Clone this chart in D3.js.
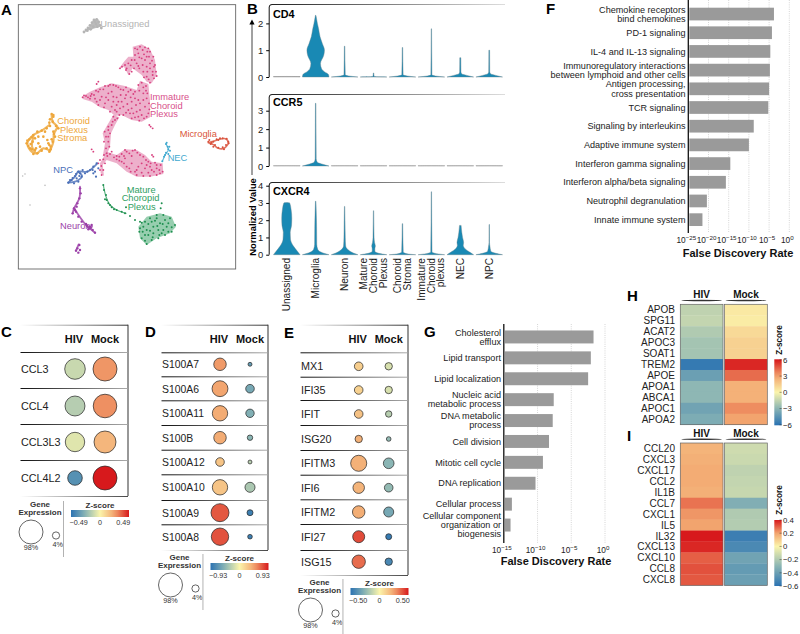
<!DOCTYPE html>
<html>
<head>
<meta charset="utf-8">
<script src="https://cdn.jsdelivr.net/npm/d3@7"></script>
<style>
  html, body { margin: 0; padding: 0; background: #fff; }
  svg { display: block; }
  text { font-family: "Liberation Sans", Arial, sans-serif; fill: #222; }
</style>
</head>
<body>
<div id="chart"></div>
<script>
// ---- panel A, umap embedding, read in arbitrary umap units
const immatureAreas = [
  [[398,140],[425,133],[450,148],[465,180],[470,225],[455,250],[440,245],[425,225],[412,215],[398,205],[385,225],[372,200],[355,208],[372,185],[385,170],[400,170]],
  [[245,290],[270,275],[300,262],[335,250],[375,258],[410,270],[420,242],[445,252],[450,300],[450,352],[425,365],[395,360],[365,345],[345,348],[325,330],[300,322],[275,305],[250,298]],
  [[340,345],[358,352],[345,375],[333,400],[330,440],[322,460],[308,470],[315,430],[308,400],[322,375]],
  [[300,490],[320,455],[350,465],[375,448],[410,450],[435,465],[455,485],[488,490],[490,522],[450,530],[410,530],[380,515],[350,490],[320,480],[308,495],[312,528],[302,520]]
];
const matureAreas = [
  [[415,680],[440,650],[480,640],[515,650],[528,680],[510,700],[470,715],[440,735],[420,715]]
];
const unassignedAreas = [
  [[252,97],[272,75],[280,58],[295,58],[302,80],[285,85],[262,92]]
];
const immaturePoints = [[405,145],[420,140],[435,142],[450,155],[460,170],[465,195],[468,215],[462,235],[450,248],[440,230],[430,215],[418,205],[410,190],[425,175],[440,170],[450,190],[440,200],[405,165],[395,180],[385,190],[375,195],[360,205],[378,210],[395,215],[388,222],[295,245],[290,252],[248,292],[258,288],[270,296],[282,285],[295,275],[310,268],[325,258],[340,255],[355,262],[370,270],[385,275],[400,282],[415,255],[430,262],[442,280],[447,310],[445,340],[432,355],[415,350],[400,340],[385,330],[370,320],[355,305],[340,290],[325,280],[305,290],[290,305],[315,310],[335,320],[350,335],[370,345],[395,355],[420,330],[430,300],[415,300],[395,305],[375,295],[350,315],[345,360],[335,375],[325,390],[318,410],[325,425],[318,445],[312,465],[300,480],[295,490],[280,455],[275,448],[452,380],[458,385],[448,375],[335,455],[350,468],[365,462],[380,455],[398,452],[412,458],[430,470],[445,485],[465,488],[482,495],[488,515],[470,525],[450,528],[430,528],[410,525],[392,515],[380,500],[365,485],[350,478],[375,475],[395,490],[415,500],[435,505],[455,510],[470,505],[315,490],[310,510],[305,525],[456,465],[460,470],
  [412,148],[428,150],[442,155],[415,160],[432,163],[447,170],[456,182],[418,172],[435,180],[450,205],[458,215],[442,215],[428,195],[415,198],[404,180],[392,196],[380,205],[366,200],[402,205],[432,232],[446,238],[458,225],[445,145],[462,200],[470,228],
  [252,286],[264,292],[275,282],[288,272],[300,268],[315,258],[330,254],[348,258],[362,268],[378,262],[392,270],[405,275],[425,248],[438,258],[438,272],[430,280],[418,272],[405,295],[420,310],[435,320],[440,295],[425,345],[410,335],[395,325],[382,312],[365,305],[350,292],[335,275],[318,292],[300,300],[285,296],[272,288],[325,300],[340,305],[360,325],[378,338],[405,352],[418,362],[440,350],[448,328],[362,285],[378,285],[392,292],[408,315],[390,340],[358,345],[345,330],[330,335],[312,322],[295,315],
  [340,350],[352,355],[338,365],[325,380],[330,400],[314,395],[325,410],[312,425],[328,440],[320,460],[310,478],[322,468],[304,498],[300,510],
  [330,462],[342,472],[358,470],[372,468],[388,460],[405,450],[420,465],[438,480],[452,490],[470,495],[478,510],[462,515],[445,518],[425,518],[405,515],[388,505],[372,490],[358,482],[440,495],[480,520],[425,490],[395,468],[375,450],[410,510],[450,500]];
const orangePoints = [[155,342],[160,350],[150,358],[158,365],[168,378],[175,385],[160,395],[165,410],[158,425],[152,440],[148,455],[140,445],[125,452],[112,460],[100,462],[90,445],[80,430],[88,418],[100,405],[112,395],[125,392],[140,385],[150,378],[130,410],[115,430],[108,445],[98,425],[92,432],[155,418],[145,430],[120,440],[160,345],[148,368],[105,450],[82,422],[95,412],[162,402],[152,448],[105,415],[115,410],[85,438],[96,448],[148,435],[142,420],[135,395]];
const orangeStrands = [[[155,345],[158,365],[172,380],[162,400],[160,425],[150,452]], [[150,452],[130,445],[110,460],[95,455],[82,430],[100,405],[125,392],[148,375]], [[100,410],[96,440],[105,455]]];
const microgliaPoints = [[625,425],[635,428],[645,435],[655,443],[668,442],[678,435],[685,425],[680,416],[668,415],[655,420],[640,425],[632,432],[640,440],[650,418],[672,448],[660,415],[686,430],[628,420]];
const microgliaStrands = [[[625,428],[640,434],[655,445],[672,445],[685,428],[676,416],[658,418],[640,424],[625,428]]];
const necPoints = [[498,432],[503,440],[505,448],[498,458],[492,470],[487,484],[505,462],[510,452],[500,428],[495,465],[508,440]];
const necStrands = [[[498,432],[505,450],[497,462],[487,484]]];
const npcPoints = [[205,548],[215,540],[225,528],[235,515],[248,510],[262,515],[280,500],[290,490],[280,520],[288,530],[245,530],[235,545],[222,550],[210,540],[240,520],[255,520],[270,510],[230,535],[278,510],[295,505],[285,515],[218,534],[228,522],[238,528]];
const npcStrands = [[[205,548],[225,530],[235,515],[262,515],[292,490]], [[205,548],[232,542],[246,528],[235,515]]];
const neuronPoints = [[240,565],[242,580],[238,595],[232,610],[222,625],[218,640],[228,635],[235,650],[245,665],[258,672],[270,680],[285,698],[278,690],[265,688],[262,678],[275,675],[232,745],[238,735],[228,752],[240,750],[235,758],[225,630],[230,620],[272,684]];
const neuronStrands = [[[240,560],[238,595],[222,625],[218,640]], [[222,625],[232,640],[258,675],[285,698]], [[258,672],[268,686],[276,680]], [[236,733],[228,752]]];
const maturePoints = [[310,555],[312,570],[318,585],[315,598],[325,610],[335,622],[350,630],[365,635],[378,622],[375,640],[390,648],[405,660],[420,665],[485,610],[482,625],[420,685],[435,665],[450,655],[470,645],[490,645],[510,655],[525,675],[515,695],[495,705],[475,715],[455,720],[440,732],[425,715],[418,695],[440,690],[460,680],[480,670],[500,680],[475,690],[445,705],[460,700],[490,690],[430,680],[455,665],[505,670],[320,600],[330,615],[342,628],[470,655],[435,722],[485,700],[425,668],[445,672],[465,662],[495,660],[515,682],[505,695],[478,705],[458,712],[435,705],[428,695],[472,678],[488,672],[450,692]];
const matureStrands = [[[310,555],[318,590],[330,615],[350,630],[378,640]]];
const unassignedPoints = [[252,96],[258,90],[264,84],[270,76],[276,68],[282,60],[290,58],[296,66],[300,76],[304,84],[288,72],[280,80],[272,88],[262,92],[292,80],[285,65]];
const strayPoints = [[68,528],[135,556],[90,615],[75,522]];
const clusterLabels = ['Unassigned', 'Immature', 'Choroid', 'Plexus', 'Choroid', 'Plexus', 'Stroma', 'Microglia', 'NEC', 'NPC', 'Mature', 'Choropid', 'Plexus', 'Neuron'];

// ---- panel B, violin profiles: [normalized value, relative half width]
const violinCats = ['Unassigned', 'Microglia', 'Neuron', 'Mature|Choroid|Plexus', 'Choroid|Stroma', 'Immature|Choroid|plexus', 'NEC', 'NPC'];
const cd4Violins = [
  [[0,1],[0.015,1],[0.02,0]],
  [[0,1],[0.1,0.95],[0.2,0.65],[0.3,0.45],[0.5,0.36],[0.8,0.6],[1,0.66],[1.25,0.5],[1.5,0.33],[1.8,0.22],[2,0.13],[2.3,0.02]],
  [[0,1],[0.04,0.3],[0.08,0.05],[1.15,0.02]],
  [[0,1],[0.015,0.05],[0.15,0.02]],
  [[0,1],[0.04,0.35],[0.08,0.05],[1.1,0.02]],
  [[0,1],[0.04,0.3],[0.08,0.04],[1.8,0.015]],
  [[0,1],[0.06,0.5],[0.12,0.1],[0.2,0.05],[0.72,0.04]],
  [[0,1],[0.06,0.5],[0.12,0.1],[0.2,0.04],[1,0.03]]
];
const ccr5Violins = [
  [[0,1],[0.015,1],[0.02,0]],
  [[0,1],[0.08,0.6],[0.2,0.12],[0.4,0.04],[3.4,0.02]],
  [[0,1],[0.015,1],[0.02,0]],
  [[0,1],[0.015,1],[0.02,0]],
  [[0,1],[0.015,1],[0.02,0]],
  [[0,1],[0.015,1],[0.02,0]],
  [[0,1],[0.015,1],[0.02,0]],
  [[0,1],[0.015,1],[0.02,0]]
];
const cxcr4Violins = [
  [[0,1],[0.2,0.8],[0.5,0.5],[0.9,0.28],[1.3,0.26],[1.7,0.36],[2.1,0.38],[2.6,0.33],[3,0.22],[3.02,0]],
  [[0,1],[0.1,0.55],[0.3,0.16],[0.6,0.08],[1.5,0.07],[2,0.06],[3.1,0.02]],
  [[0,1],[0.1,0.65],[0.3,0.24],[0.5,0.08],[1,0.05],[2,0.03],[2.8,0.015]],
  [[0,1],[0.08,0.4],[0.2,0.1],[0.35,0.1],[0.5,0.14],[0.7,0.08],[1,0.04],[2.55,0.015]],
  [[0,1],[0.05,0.35],[0.15,0.06],[1.8,0.02]],
  [[0,1],[0.06,0.4],[0.15,0.05],[3.65,0.015]],
  [[0,1],[0.15,0.7],[0.35,0.35],[0.55,0.22],[0.7,0.25],[1,0.17],[1.3,0.11],[1.7,0.06]],
  [[0,1],[0.08,0.5],[0.2,0.12],[0.5,0.05],[0.7,0.02],[1.75,0.015]]
];
const violinGenes = ['CD4', 'CCR5', 'CXCR4'];

// ---- panels C, D, E, dot plots: z score + percent expressing
const cGenes = ['CCL3', 'CCL4', 'CCL3L3', 'CCL4L2'];
const cZ = [[-0.11, 0.27], [-0.15, 0.28], [-0.06, 0.19], [-0.38, 0.49]];
const cPct = [[69, 98], [64, 94], [60, 80], [30, 98]];
const dGenes = ['S100A7', 'S100A6', 'S100A11', 'S100B', 'S100A12', 'S100A10', 'S100A9', 'S100A8'];
const dZ = [[0.5,-0.65],[0.46,-0.56],[0.42,-0.51],[0.42,-0.46],[0.28,-0.28],[0.28,-0.33],[0.72,-0.84],[0.74,-0.84]];
const dPct = [[20,0.2],[37,7],[34,6.5],[20,1.3],[7,0.2],[34,11],[50,2],[46,0.6]];
const eGenes = ['MX1', 'IFI35', 'IFIT', 'ISG20', 'IFITM3', 'IFI6', 'IFITM2', 'IFI27', 'ISG15'];
const eZ = [[0.12,-0.08],[0.11,-0.08],[0.16,-0.15],[0.21,-0.23],[0.21,-0.25],[0.2,-0.23],[0.22,-0.3],[0.41,-0.47],[0.35,-0.42]];
const ePct = [[7,4.3],[7,4.3],[7,2.6],[4.3,0.6],[38,13],[16,7],[20,11],[18,2],[24,4.3]];

// ---- panels F, G, enrichment bars: log10 FDR
const fTerms = ['Chemokine receptors|bind chemokines', 'PD-1 signaling', 'IL-4 and IL-13 signaling', 'Immunoregulatory interactions|between lymphoid and other cells', 'Antigen processing,|cross presentation', 'TCR signaling', 'Signaling by interleukins', 'Adaptive immune system', 'Interferon gamma signaling', 'Interferon alpha/beta signaling', 'Neutrophil degranulation', 'Innate immune system'];
const fLogFdr = [-3.8, -4.3, -4.7, -4.8, -5, -5.2, -8.8, -10, -14.6, -15.7, -20.4, -21.5];
const fTicks = [-25, -20, -15, -10, -5, 0];
const gTerms = ['Cholesterol|efflux', 'Lipid transport', 'Lipid localization', 'Nucleic acid|metabolic process', 'DNA metabolic|process', 'Cell division', 'Mitotic cell cycle', 'DNA replication', 'Cellular process', 'Cellular component|organization or|biogenesis'];
const gLogFdr = [-1.7, -2.1, -2.5, -7.6, -7.75, -8.3, -9.2, -10.3, -13.8, -14];
const gTicks = [-15, -10, -5, 0];

// ---- panels H, I, heatmaps
const heatConds = ['HIV', 'Mock'];
const hGenes = ['APOB', 'SPG11', 'ACAT2', 'APOC3', 'SOAT1', 'TREM2', 'APOE', 'APOA1', 'ABCA1', 'APOC1', 'APOA2'];
const hHiv = [-1.6, -1.5, -2, -2.3, -2.3, -5.7, -4, -2.9, -2.9, -3.8, -3.4];
const hMock = [0.4, 0.3, 1, 1.3, 1.3, 5.7, 4.2, 2.5, 2.5, 3.5, 3];
const iGenes = ['CCL20', 'CXCL3', 'CXCL17', 'CCL2', 'IL1B', 'CCL7', 'CXCL1', 'IL5', 'IL32', 'CXCL13', 'CXCL10', 'CCL8', 'CXCL8'];
const iHiv = [0.16, 0.17, 0.18, 0.18, 0.17, 0.27, 0.22, 0.2, 0.4, 0.38, 0.3, 0.32, 0.31];
const iMock = [-0.12, -0.13, -0.16, -0.15, -0.14, -0.33, -0.2, -0.19, -0.55, -0.5, -0.38, -0.42, -0.4];
const hTicks = [6, 3, 0, -3, -6];
const iTicks = [0.4, 0.2, 0, -0.2, -0.4, -0.6];

const paletteStops = ['#2c73b2', '#8ab5b4', '#fbf4ab', '#f2a46e', '#d7191c'];
const minus = s => String(s).replace('-', '\u2212');

const svg = d3.select('#chart').append('svg').attr('width', 800).attr('height', 634);
const defs = svg.append('defs');

// fading rules used for the panel frames
const addFade = (id, x1, x2, c1, c2) => {
  const g = defs.append('linearGradient').attr('id', id).attr('x1', x1).attr('x2', x2).attr('y1', 0).attr('y2', 0);
  g.append('stop').attr('offset', '0%').attr('stop-color', c1);
  g.append('stop').attr('offset', '100%').attr('stop-color', c2);
};
addFade('fadeIn', 0, 1, '#fff', '#333');
addFade('fadeOut', 0, 1, '#111', '#aaa');
addFade('fadeOutTop', 0, 1, '#222', '#ddd');
const rule = (x, y, w, fill, h = 1) => svg.append('rect').attr('x', x).attr('y', y).attr('width', w).attr('height', h).attr('fill', fill);

const panelLetter = (s, x, y) => svg.append('text').attr('x', x).attr('y', y).text(s)
  .attr('font-size', 15).attr('font-weight', 700).style('fill', '#000');

[['A',1,15],['B',247,14],['F',546,14],['C',1,337],['D',145,337],['E',284,338],['G',424,337],['H',627,301],['I',627,441]]
  .forEach(d => panelLetter(...d));

// ---- A
const drawUmap = () => {
  const ux = d3.scaleLinear().domain([0, 750]).range([0, 250]);
  const uy = d3.scaleLinear().domain([0, 780]).range([0, 260]);
  svg.append('rect').attr('x', ux(55)).attr('y', uy(14)).attr('width', ux(707) - ux(55)).attr('height', 269 - uy(14))
    .attr('fill', 'none').attr('stroke', '#666').attr('stroke-width', 0.9);
  const line = d3.line().x(d => ux(d[0])).y(d => uy(d[1]));
  const area = (list, color, op = 0.45) => svg.append('g').selectAll('path').data(list).enter().append('path')
    .attr('d', d => line(d) + 'Z').attr('fill', color).attr('opacity', op);
  const strands = (list, color, w) => svg.append('g').selectAll('path').data(list).enter().append('path')
    .attr('d', line.curve(d3.curveCatmullRom)).attr('fill', 'none').attr('stroke', color)
    .attr('stroke-width', w).attr('stroke-linecap', 'round').attr('opacity', 0.8);
  const dots = (list, color, r = 1) => svg.append('g').selectAll('circle').data(list).enter().append('circle')
    .attr('cx', d => ux(d[0])).attr('cy', d => uy(d[1])).attr('r', r).attr('fill', color);
  area(immatureAreas, '#d8508b');
  area(matureAreas, '#2f9e5f', 0.5);
  area(unassignedAreas, '#b5b5b5', 0.9);
  strands(orangeStrands, '#eea63a', 2.2);
  strands(microgliaStrands, '#d9503a', 1.6);
  strands(necStrands, '#3fa9cf', 1.2);
  strands(npcStrands, '#4a6fb8', 1.8);
  strands(neuronStrands, '#9b3fa8', 1.8);
  strands(matureStrands, '#2f9e5f', 1.2);
  dots(immaturePoints, '#d8407f', 0.95);
  dots(orangePoints, '#eea63a', 1.3);
  dots(microgliaPoints, '#d9503a', 1);
  dots(necPoints, '#3fa9cf', 1);
  dots(npcPoints, '#4a6fb8', 1.1);
  dots(neuronPoints, '#9b3fa8', 1.2);
  dots(maturePoints, '#1f9050', 1);
  dots(unassignedPoints, '#b5b5b5', 1.4);
  dots(strayPoints, '#bbb', 0.8);

  const labels = [
    [clusterLabels[0], 301, 80, '#b3b3b3'],
    [clusterLabels[1], 450, 300, '#d8508b'], [clusterLabels[2], 450, 326, '#d8508b'], [clusterLabels[3], 450, 352, '#d8508b'],
    [clusterLabels[4], 172, 372, '#eea63a'], [clusterLabels[5], 180, 398, '#eea63a'], [clusterLabels[6], 172, 424, '#eea63a'],
    [clusterLabels[7], 539, 410, '#d9563a'],
    [clusterLabels[8], 503, 484, '#3fa9cf'],
    [clusterLabels[9], 160, 518, '#4a6fb8'],
    [clusterLabels[10], 380, 578, '#2f9e5f'], [clusterLabels[11], 365, 604, '#2f9e5f'], [clusterLabels[12], 383, 630, '#2f9e5f'],
    [clusterLabels[13], 180, 688, '#9b3fa8']
  ];
  labels.forEach(d => svg.append('text').attr('x', ux(d[1])).attr('y', uy(d[2])).text(d[0])
    .attr('font-size', 9.3).style('fill', d[3]));
};

// ---- B
const drawViolins = () => {
  const x = d3.scaleBand().domain(violinCats).range([272.3, 503.7]);
  const panels = [
    { data: cd4Violins, y: d3.scaleLinear().domain([0, 2]).range([77, 23.4]), ticks: [0, 1, 2], top: 4, label: 17.5 },
    { data: ccr5Violins, y: d3.scaleLinear().domain([0, 3]).range([166, 110.7]), ticks: [0, 1, 2, 3], top: 94, label: 106 },
    { data: cxcr4Violins, y: d3.scaleLinear().domain([0, 4]).range([254.7, 185.7]), ticks: [0, 1, 2, 3, 4], top: 182, label: 195 }
  ];
  panels.forEach((p, k) => {
    rule(272, p.top, 233, 'url(#fadeOutTop)');
    svg.append('path').attr('d', `M269.2,${p.y(0)}V${p.top + 3}Q269.2,${p.top + 0.5} 272,${p.top + 0.5}`)
      .attr('fill', 'none').attr('stroke', '#111').attr('stroke-width', 1);
    const axis = svg.append('g').attr('transform', 'translate(269.2,0)')
      .call(d3.axisLeft(p.y).tickValues(p.ticks).tickSize(3).tickFormat(d3.format('d')));
    axis.select('.domain').remove();
    axis.selectAll('text').attr('font-size', 9.4).style('font-family', '"Liberation Sans"').attr('dx', 0);
    svg.append('text').attr('x', 273).attr('y', p.label).text(violinGenes[k])
      .attr('font-size', 10.8).attr('font-weight', 700).style('fill', '#000');

    const half = d3.scaleLinear().domain([0, 1]).range([0, 13.3]);
    const area = d3.area().y(d => p.y(d[0])).curve(d3.curveMonotoneY);
    p.data.forEach((profile, i) => {
      const cx = x(violinCats[i]) + x.bandwidth() / 2;
      area.x0(d => cx - half(d[1])).x1(d => cx + half(d[1]));
      const flat = profile.length === 3 && profile[2][1] === 0;
      svg.append('path').attr('d', area(profile)).attr('fill', flat ? '#888' : '#1989b4')
        .attr('stroke', flat ? '#888' : '#66808c').attr('stroke-width', 0.4);
    });
  });

  // axis title + arrow
  svg.append('text').attr('transform', 'translate(255.5,217) rotate(-90)').attr('text-anchor', 'middle')
    .text('Normalized Value').attr('font-size', 9.4).attr('font-weight', 700).style('fill', '#000');
  svg.append('line').attr('x1', 252).attr('x2', 252).attr('y1', 175).attr('y2', 24).attr('stroke', '#111').attr('stroke-width', 0.8);
  svg.append('path').attr('d', 'M252,19.5l-2.6,5h5.2z').attr('fill', '#000');

  // category labels, rotated
  violinCats.forEach(c => {
    const lines = c.split('|');
    const cx = x(c) + x.bandwidth() / 2;
    lines.forEach((t, j) => {
      const off = (j - (lines.length - 1) / 2) * 9.7;
      svg.append('text').attr('transform', `translate(${cx + off + 3.3},258) rotate(-90)`)
        .attr('text-anchor', 'end').text(t).attr('font-size', 10.1).style('fill', '#222');
    });
  });
};

// ---- C, D, E
const sizeScale = d3.scaleSqrt().domain([0, 98]).range([1.5, 12]);
const dotColor = max => d3.scaleLinear().domain([-max, -max / 2, 0, max / 2, max]).range(paletteStops);

const drawDotPlot = ({ genes, z, pct, max, xL, xR, xHiv, xMock, seps, rows, bottom, font, legendDx, legendDy, gid }) => {
  const color = dotColor(max);
  const top = 324.7;
  rule(xL, top, xR - xL, 'url(#fadeIn)');
  svg.append('rect').attr('x', xR - 0.5).attr('y', top).attr('width', 1).attr('height', bottom - top).attr('fill', '#333');
  rule(xL, bottom, xR - xL, 'url(#fadeIn)', 0.9);
  ['HIV', 'Mock'].forEach((h, i) => svg.append('text').attr('x', (i ? xMock : xHiv) - (i ? 0 : 1)).attr('y', 343.3)
    .attr('text-anchor', 'middle').text(h).attr('font-size', 11).attr('font-weight', 700).style('fill', '#111'));
  seps.forEach(s => rule(xL + 0.5, s, xR - xL - 1, 'url(#fadeOut)', 1));
  genes.forEach((g, i) => {
    svg.append('text').attr('x', xL + 1).attr('y', rows[i] + 3.8).text(g).attr('font-size', font).style('fill', '#222');
    [xHiv, xMock].forEach((cx, j) => svg.append('circle').attr('cx', cx).attr('cy', rows[i])
      .attr('r', sizeScale(pct[i][j])).attr('fill', color(z[i][j])).attr('stroke', '#222').attr('stroke-width', 0.7));
  });

  // legend, positions relative to panel C one
  const lg = svg.append('g').attr('transform', `translate(${legendDx},${legendDy})`);
  const small = (s, x, y, w = 400, size = 7.2, anchor = 'middle') => lg.append('text').attr('x', x).attr('y', y).text(s)
    .attr('text-anchor', anchor).attr('font-size', size).attr('font-weight', w).style('fill', '#333');
  small('Gene', 40, 507, 700, 8); small('Expression', 40, 515, 700, 8);
  lg.append('circle').attr('cx', 31).attr('cy', 532).attr('r', sizeScale(98)).attr('fill', '#fff').attr('stroke', '#222').attr('stroke-width', 0.7);
  lg.append('circle').attr('cx', 56).attr('cy', 535.5).attr('r', sizeScale(4)).attr('fill', '#fff').attr('stroke', '#222').attr('stroke-width', 0.7);
  small('98%', 31, 549.5); small('4%', 57.6, 546.5);
  lg.append('rect').attr('x', 63).attr('y', 501).attr('width', 0.9).attr('height', 56).attr('fill', '#aaa');
  small('Z-score', 100, 508, 700, 8);
  const g = defs.append('linearGradient').attr('id', gid);
  d3.range(0, 1.001, 0.1).forEach(t => g.append('stop').attr('offset', `${t * 100}%`).attr('stop-color', color(-max + 2 * max * t)));
  const barX = d3.scaleLinear().domain([-max, max]).range([71, 129]);
  lg.append('rect').attr('x', barX(-max)).attr('y', 510).attr('width', barX(max) - barX(-max)).attr('height', 7).attr('fill', `url(#${gid})`);
  const fmt = d3.format('.2f');
  small(minus(fmt(-max)), barX(-max * 0.74), 524.5);
  small('0', barX(0), 524.5);
  small(fmt(max), barX(max * 0.8), 524.5);
};

// ---- F, G
const drawBars = ({ terms, values, ticks, xRange, rowY, padI, axisTop, axisBottom, labelX, titleX, titleY, tickY, lineH }) => {
  const x = d3.scaleLinear().domain([ticks[0], 0]).range(xRange);
  const y = d3.scaleBand().domain(terms).range(rowY).paddingInner(padI).paddingOuter(padI / 2);
  ticks.slice(1).forEach(t => svg.append('line').attr('x1', x(t)).attr('x2', x(t)).attr('y1', axisTop).attr('y2', axisBottom)
    .attr('stroke', '#bbb').attr('stroke-width', 0.6).attr('stroke-dasharray', '1,1.2'));
  svg.append('g').selectAll('rect').data(terms).enter().append('rect')
    .attr('x', xRange[0] + 1).attr('y', d => y(d)).attr('height', y.bandwidth())
    .attr('width', (d, i) => x(values[i]) - xRange[0] - 1).attr('fill', '#9a9a9a');
  svg.append('line').attr('x1', xRange[0]).attr('x2', xRange[0]).attr('y1', axisTop).attr('y2', axisBottom)
    .attr('stroke', '#111').attr('stroke-width', 1.3);
  terms.forEach(t => {
    const lines = t.split('|');
    const mid = y(t) + y.bandwidth() / 2;
    lines.forEach((s, j) => svg.append('text').attr('x', labelX).attr('y', mid + (j - (lines.length - 1) / 2) * lineH + 3.2)
      .attr('text-anchor', 'end').text(s).attr('font-size', 9.1).style('fill', '#222'));
  });
  ticks.forEach(t => {
    const tx = svg.append('text').attr('x', x(t) - 2).attr('y', tickY).attr('text-anchor', 'middle').attr('font-size', 8.3).style('fill', '#222');
    tx.append('tspan').text('10');
    tx.append('tspan').attr('dy', -3).attr('font-size', 6.2).text(minus(t));
  });
  svg.append('text').attr('x', titleX).attr('y', titleY).attr('text-anchor', 'middle').text('False Discovery Rate')
    .attr('font-size', 11).attr('font-weight', 700).style('fill', '#111');
};

// ---- H, I
const drawHeat = ({ genes, hiv, mock, top, bottom, headY, lineY, color, domain, ticks, barTop, barBottom, titleY, gid, tickFmt }) => {
  const xc = d3.scaleBand().domain(heatConds).range([680.3, 767.3]).paddingInner(0.035);
  const y = d3.scaleBand().domain(genes).range([top, bottom]);
  [hiv, mock].forEach((col, k) => {
    const xk = xc(heatConds[k]);
    svg.append('g').selectAll('rect').data(genes).enter().append('rect')
      .attr('x', xk).attr('width', xc.bandwidth()).attr('y', d => y(d)).attr('height', y.bandwidth() + 0.3)
      .attr('fill', (d, i) => color(col[i]));
    svg.append('rect').attr('x', xk).attr('y', top).attr('width', xc.bandwidth()).attr('height', bottom - top)
      .attr('fill', 'none').attr('stroke', '#666').attr('stroke-width', 0.7);
    svg.append('text').attr('x', xk + xc.bandwidth() / 2).attr('y', headY).attr('text-anchor', 'middle')
      .text(heatConds[k]).attr('font-size', 10).attr('font-weight', 700).style('fill', '#111');
    svg.append('ellipse').attr('cx', xk + xc.bandwidth() / 2).attr('cy', lineY).attr('rx', xc.bandwidth() / 2 - 1).attr('ry', 0.75)
      .attr('fill', '#333');
  });
  genes.forEach(g => svg.append('text').attr('x', 675).attr('y', y(g) + y.bandwidth() / 2 + 3.5)
    .attr('text-anchor', 'end').text(g).attr('font-size', 10).style('fill', '#222'));

  const yb = d3.scaleLinear().domain(domain).range([barBottom, barTop]);
  const g = defs.append('linearGradient').attr('id', gid).attr('x1', 0).attr('x2', 0).attr('y1', 1).attr('y2', 0);
  d3.range(0, 1.001, 0.1).forEach(t => g.append('stop').attr('offset', `${t * 100}%`).attr('stop-color', color(domain[0] + (domain[1] - domain[0]) * t)));
  svg.append('rect').attr('x', 774.3).attr('y', barTop).attr('width', 7.4).attr('height', barBottom - barTop).attr('fill', `url(#${gid})`);
  ticks.forEach(t => {
    svg.append('line').attr('x1', 779.5).attr('x2', 781.7).attr('y1', yb(t)).attr('y2', yb(t)).attr('stroke', '#333').attr('stroke-width', 0.5);
    svg.append('text').attr('x', 783).attr('y', yb(t) + 2.8).text(minus(tickFmt(t))).attr('font-size', 7.8).style('fill', '#222');
  });
  svg.append('text').attr('transform', `translate(781.5,${titleY}) rotate(-90)`).attr('text-anchor', 'middle')
    .text('Z-score').attr('font-size', 8.2).attr('font-weight', 700).style('fill', '#111');
};

drawUmap();
drawViolins();

drawDotPlot({ genes: cGenes, z: cZ, pct: cPct, max: 0.49, xL: 20, xR: 128, xHiv: 75, xMock: 105,
  seps: [352, 388, 424, 460], rows: [369, 406, 442, 478], bottom: 496, font: 10.8, legendDx: 0, legendDy: 0, gid: 'zC' });
drawDotPlot({ genes: dGenes, z: dZ, pct: dPct, max: 0.93, xL: 161, xR: 268, xHiv: 220, xMock: 250,
  seps: [352.3, 376.3, 400.3, 425, 449.7, 474.3, 500, 524.3], rows: [364.3, 388.7, 413.3, 437.7, 462, 487.3, 512.7, 536.7], bottom: 550, font: 10.4, legendDx: 139.5, legendDy: 53, gid: 'zD' });
drawDotPlot({ genes: eGenes, z: eZ, pct: ePct, max: 0.5, xL: 300, xR: 408, xHiv: 358.7, xMock: 388.7,
  seps: [352.3, 376.7, 400, 425, 450, 474.7, 499.3, 524, 550], rows: [366.3, 390, 414, 439, 463.3, 487.7, 512, 536.7, 561.7], bottom: 575, font: 10.8, legendDx: 279.5, legendDy: 78, gid: 'zE' });

drawBars({ terms: fTerms, values: fLogFdr, ticks: fTicks, xRange: [688.3, 789.3], rowY: [4.7, 229], padI: 0.32, axisTop: 0, axisBottom: 233,
  labelX: 685.5, titleX: 738, titleY: 256.5, tickY: 243, lineH: 9.2 });
drawBars({ terms: gTerms, values: gLogFdr, ticks: gTicks, xRange: [503.8, 605], rowY: [326.5, 535.5], padI: 0.38, axisTop: 324, axisBottom: 543,
  labelX: 501, titleX: 556, titleY: 565, tickY: 553, lineH: 9.2 });

const hColor = d3.scaleLinear().domain([-6, -3, 0, 3, 6]).range(paletteStops);
const iColor = d3.scaleLinear().domain([-0.6, -0.3, 0, 0.2, 0.4]).range(paletteStops);
drawHeat({ genes: hGenes, hiv: hHiv, mock: hMock, top: 304.3, bottom: 424.7, headY: 298, lineY: 300.5, color: hColor, domain: [-6.1, 6.1], ticks: hTicks,
  barTop: 359.3, barBottom: 425.3, titleY: 340, gid: 'zH', tickFmt: d3.format('d') });
drawHeat({ genes: iGenes, hiv: iHiv, mock: iMock, top: 443, bottom: 585.3, headY: 436.5, lineY: 439.2, color: iColor, domain: [-0.6, 0.4], ticks: iTicks,
  barTop: 520, barBottom: 586, titleY: 500, gid: 'zI', tickFmt: d => d === 0 ? '0' : d3.format('.1f')(d) });
</script>
</body>
</html>
